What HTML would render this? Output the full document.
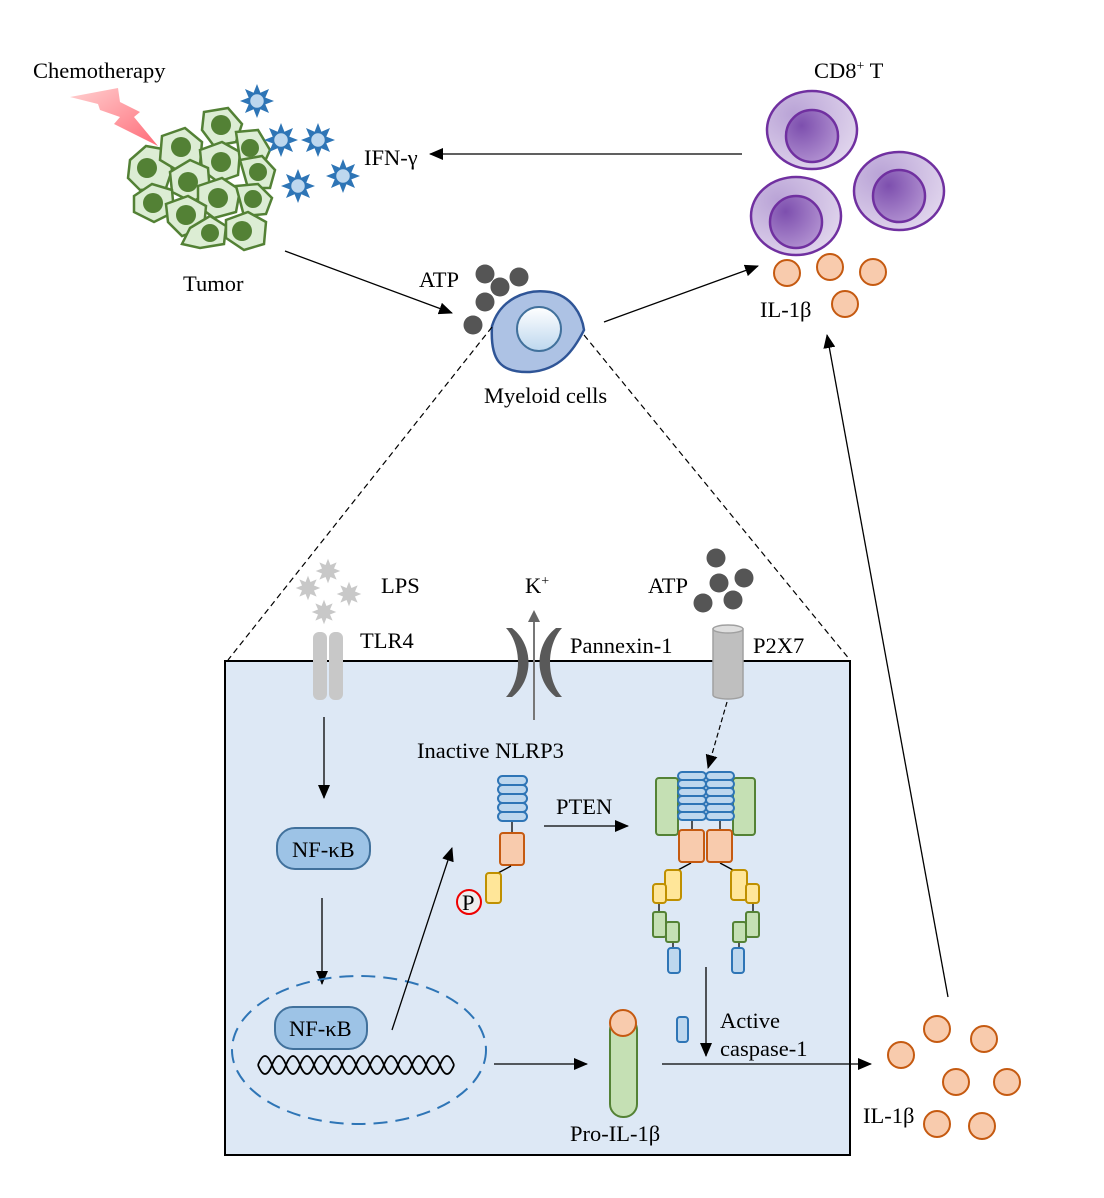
<!DOCTYPE html>
<html><head><meta charset="utf-8"><style>
html,body{margin:0;padding:0;background:#fff}
svg{display:block}
text{font-family:"Liberation Serif",serif;font-size:22.5px;fill:#000}
</style></head><body>
<svg width="1104" height="1198" viewBox="0 0 1104 1198" xmlns="http://www.w3.org/2000/svg">
<defs>
<marker id="ah" markerWidth="14" markerHeight="12" refX="13" refY="6" orient="auto" markerUnits="userSpaceOnUse"><path d="M0,0 L14,6 L0,12 z" fill="#000"/></marker>
<marker id="ahg" markerWidth="12" markerHeight="12" refX="10" refY="6" orient="auto" markerUnits="userSpaceOnUse"><path d="M0,0 L12,6 L0,12 z" fill="#666"/></marker>
<path id="star" d="M0,-17 3.4,-8.3 12,-12 8.3,-3.4 17,0 8.3,3.4 12,12 3.4,8.3 0,17 -3.4,8.3 -12,12 -8.3,3.4 -17,0 -8.3,-3.4 -12,-12 -3.4,-8.3z"/>
<radialGradient id="tc" cx="0.3" cy="0.3" r="0.9"><stop offset="0" stop-color="#b9a3d6"/><stop offset="1" stop-color="#e6dcf0"/></radialGradient>
<radialGradient id="tn" cx="0.3" cy="0.3" r="0.9"><stop offset="0" stop-color="#7d4fae"/><stop offset="1" stop-color="#b99bd6"/></radialGradient>
<linearGradient id="mn" x1="0" y1="0" x2="0" y2="1"><stop offset="0" stop-color="#fff"/><stop offset="1" stop-color="#bdd7ee"/></linearGradient>
<linearGradient id="lt" x1="0" y1="0" x2="1" y2="1"><stop offset="0" stop-color="#ffd0d0"/><stop offset="1" stop-color="#ff6b78"/></linearGradient>
</defs>

<text x="33" y="78">Chemotherapy</text>
<polygon points="70,97 118,88 120,102 140,112 134,117 158,146 114,124 120,117 100,110 98,104" fill="url(#lt)"/>

<g fill="#dcedd4" stroke="#538135" stroke-width="2.5">
<path d="M130,160 L146,146 L168,150 L172,170 L166,188 L140,190 L128,178z"/>
<path d="M162,136 L185,128 L202,142 L200,165 L180,172 L160,160z"/>
<path d="M204,112 L228,108 L242,124 L236,142 L214,146 L202,130z"/>
<path d="M200,150 L222,142 L240,152 L238,175 L218,182 L202,170z"/>
<path d="M170,172 L190,160 L208,168 L210,192 L192,202 L172,192z"/>
<path d="M236,132 L258,130 L270,150 L262,168 L240,160z"/>
<path d="M240,160 L262,156 L275,170 L270,188 L248,188z"/>
<path d="M198,186 L222,178 L240,190 L236,212 L214,218 L198,206z"/>
<path d="M134,196 L152,184 L172,190 L174,212 L154,222 L134,212z"/>
<path d="M166,204 L188,196 L206,206 L204,228 L182,236 L168,222z"/>
<path d="M236,186 L258,184 L272,198 L266,214 L244,216z"/>
<path d="M190,228 L210,216 L226,226 L224,244 L200,248 L182,244z"/>
<path d="M226,220 L248,212 L266,222 L264,244 L244,250 L226,238z"/>
</g>
<g fill="#538135">
<circle cx="147" cy="168" r="10"/><circle cx="181" cy="147" r="10"/><circle cx="221" cy="125" r="10"/>
<circle cx="221" cy="162" r="10"/><circle cx="188" cy="182" r="10"/><circle cx="250" cy="148" r="9"/>
<circle cx="258" cy="172" r="9"/><circle cx="218" cy="198" r="10"/><circle cx="153" cy="203" r="10"/>
<circle cx="186" cy="215" r="10"/><circle cx="210" cy="233" r="9"/><circle cx="242" cy="231" r="10"/><circle cx="253" cy="199" r="9"/>
</g>
<text x="183" y="291">Tumor</text>

<g fill="#2e75b6">
<use href="#star" x="257" y="101"/><use href="#star" x="281" y="140"/><use href="#star" x="318" y="140"/>
<use href="#star" x="298" y="186"/><use href="#star" x="343" y="176"/>
</g>
<g fill="#bdd7ee" stroke="#2e75b6" stroke-width="1.5">
<circle cx="257" cy="101" r="7.5"/><circle cx="281" cy="140" r="7.5"/><circle cx="318" cy="140" r="7.5"/>
<circle cx="298" cy="186" r="7.5"/><circle cx="343" cy="176" r="7.5"/>
</g>
<text x="364" y="165">IFN-γ</text>
<line x1="742" y1="154" x2="430" y2="154" stroke="#000" stroke-width="1.3" marker-end="url(#ah)"/>

<text x="814" y="78">CD8<tspan font-size="14" dy="-8">+</tspan><tspan dy="8"> T</tspan></text>
<g stroke="#7030a0" stroke-width="2.5">
<ellipse cx="812" cy="130" rx="45" ry="39" fill="url(#tc)"/><circle cx="812" cy="136" r="26" fill="url(#tn)"/>
<ellipse cx="796" cy="216" rx="45" ry="39" fill="url(#tc)"/><circle cx="796" cy="222" r="26" fill="url(#tn)"/>
<ellipse cx="899" cy="191" rx="45" ry="39" fill="url(#tc)"/><circle cx="899" cy="196" r="26" fill="url(#tn)"/>
</g>
<g fill="#f8cbad" stroke="#c55a11" stroke-width="2">
<circle cx="787" cy="273" r="13"/><circle cx="830" cy="267" r="13"/><circle cx="873" cy="272" r="13"/><circle cx="845" cy="304" r="13"/>
</g>
<text x="760" y="317">IL-1β</text>

<text x="419" y="287">ATP</text>
<g fill="#555">
<circle cx="485" cy="274" r="9.5"/><circle cx="500" cy="287" r="9.5"/><circle cx="519" cy="277" r="9.5"/>
<circle cx="485" cy="302" r="9.5"/><circle cx="473" cy="325" r="9.5"/>
</g>
<path d="M492,326 C500,300 525,288 550,292 C572,296 582,315 584,330 C574,350 560,370 530,372 C500,373 490,360 492,326z" fill="#adc2e4" stroke="#2f5597" stroke-width="2.5"/>
<circle cx="539" cy="329" r="22" fill="url(#mn)" stroke="#41719c" stroke-width="2"/>
<text x="484" y="403">Myeloid cells</text>
<line x1="285" y1="251" x2="452" y2="313" stroke="#000" stroke-width="1.3" marker-end="url(#ah)"/>
<line x1="604" y1="322" x2="758" y2="266" stroke="#000" stroke-width="1.3" marker-end="url(#ah)"/>
<line x1="948" y1="997" x2="827" y2="335" stroke="#000" stroke-width="1.3" marker-end="url(#ah)"/>
<line x1="492" y1="327" x2="228" y2="660" stroke="#000" stroke-width="1.2" stroke-dasharray="6,4"/>
<line x1="584" y1="335" x2="850" y2="660" stroke="#000" stroke-width="1.2" stroke-dasharray="6,4"/>

<rect x="225" y="661" width="625" height="494" fill="#dde8f5" stroke="#000" stroke-width="2"/>

<g fill="#c8c8c8">
<use href="#star" transform="translate(328,571) scale(0.72)"/><use href="#star" transform="translate(308,588) scale(0.72)"/>
<use href="#star" transform="translate(349,594) scale(0.72)"/><use href="#star" transform="translate(324,612) scale(0.72)"/>
</g>
<text x="381" y="593">LPS</text>
<rect x="313" y="632" width="14" height="68" rx="6" fill="#c8c8c8"/>
<rect x="329" y="632" width="14" height="68" rx="6" fill="#c8c8c8"/>
<text x="360" y="648">TLR4</text>

<text x="525" y="593">K<tspan font-size="14" dy="-8">+</tspan></text>
<path d="M506,628 C522,645 522,680 506,697 L512,697 C534,680 534,645 512,628z" fill="#595959"/>
<path d="M562,628 C546,645 546,680 562,697 L556,697 C534,680 534,645 556,628z" fill="#595959"/>
<line x1="534" y1="720" x2="534" y2="612" stroke="#777" stroke-width="2" marker-end="url(#ahg)"/>
<text x="570" y="653">Pannexin-1</text>

<text x="648" y="593">ATP</text>
<g fill="#555">
<circle cx="716" cy="558" r="9.5"/><circle cx="719" cy="583" r="9.5"/><circle cx="744" cy="578" r="9.5"/>
<circle cx="703" cy="603" r="9.5"/><circle cx="733" cy="600" r="9.5"/>
</g>
<path d="M713,629 L713,695 A15,4 0 0 0 743,695 L743,629z" fill="#bfbfbf" stroke="#a0a0a0" stroke-width="1.5"/>
<ellipse cx="728" cy="629" rx="15" ry="4" fill="#dedede" stroke="#a0a0a0" stroke-width="1.5"/>
<text x="753" y="653">P2X7</text>
<line x1="727" y1="702" x2="708" y2="768" stroke="#000" stroke-width="1.2" stroke-dasharray="5,3" marker-end="url(#ah)"/>

<line x1="324" y1="717" x2="324" y2="798" stroke="#000" stroke-width="1.3" marker-end="url(#ah)"/>
<rect x="277" y="828" width="93" height="41" rx="18" fill="#9dc3e6" stroke="#41719c" stroke-width="2"/>
<text x="292" y="857">NF-κB</text>
<line x1="322" y1="898" x2="322" y2="984" stroke="#000" stroke-width="1.3" marker-end="url(#ah)"/>
<ellipse cx="359" cy="1050" rx="127" ry="74" fill="none" stroke="#2e75b6" stroke-width="2" stroke-dasharray="14,8"/>
<rect x="275" y="1007" width="92" height="42" rx="18" fill="#9dc3e6" stroke="#41719c" stroke-width="2"/>
<text x="289" y="1036">NF-κB</text>
<g fill="none" stroke="#000" stroke-width="1.8">
<path d="M258,1065 Q265,1047 272,1065 T286,1065 T300,1065 T314,1065 T328,1065 T342,1065 T356,1065 T370,1065 T384,1065 T398,1065 T412,1065 T426,1065 T440,1065 T454,1065"/>
<path d="M258,1065 Q265,1083 272,1065 T286,1065 T300,1065 T314,1065 T328,1065 T342,1065 T356,1065 T370,1065 T384,1065 T398,1065 T412,1065 T426,1065 T440,1065 T454,1065"/>
</g>
<line x1="392" y1="1030" x2="452" y2="848" stroke="#000" stroke-width="1.3" marker-end="url(#ah)"/>
<line x1="494" y1="1064" x2="587" y2="1064" stroke="#000" stroke-width="1.3" marker-end="url(#ah)"/>

<text x="417" y="758">Inactive NLRP3</text>
<g fill="#bdd7ee" stroke="#2e75b6" stroke-width="2">
<rect x="498" y="776" width="29" height="9" rx="4.5"/><rect x="498" y="785" width="29" height="9" rx="4.5"/>
<rect x="498" y="794" width="29" height="9" rx="4.5"/><rect x="498" y="803" width="29" height="9" rx="4.5"/>
<rect x="498" y="812" width="29" height="9" rx="4.5"/>
</g>
<line x1="512" y1="822" x2="512" y2="833" stroke="#000" stroke-width="1.3"/>
<rect x="500" y="833" width="24" height="32" rx="3" fill="#f8cbad" stroke="#c55a11" stroke-width="2"/>
<line x1="511" y1="866" x2="498" y2="873" stroke="#000" stroke-width="1.3"/>
<rect x="486" y="873" width="15" height="30" rx="3" fill="#ffe699" stroke="#bf9000" stroke-width="2"/>
<circle cx="469" cy="902" r="12" fill="#eee" stroke="#e00" stroke-width="2"/>
<text x="462" y="910" font-size="19">P</text>
<text x="556" y="814">PTEN</text>
<line x1="544" y1="826" x2="628" y2="826" stroke="#000" stroke-width="1.3" marker-end="url(#ah)"/>

<g fill="#c5e0b4" stroke="#548235" stroke-width="2">
<rect x="656" y="778" width="22" height="57" rx="3"/><rect x="733" y="778" width="22" height="57" rx="3"/>
</g>
<g fill="#bdd7ee" stroke="#2e75b6" stroke-width="2">
<rect x="678" y="772" width="28" height="8" rx="4"/><rect x="678" y="780" width="28" height="8" rx="4"/><rect x="678" y="788" width="28" height="8" rx="4"/>
<rect x="678" y="796" width="28" height="8" rx="4"/><rect x="678" y="804" width="28" height="8" rx="4"/><rect x="678" y="812" width="28" height="8" rx="4"/>
<rect x="706" y="772" width="28" height="8" rx="4"/><rect x="706" y="780" width="28" height="8" rx="4"/><rect x="706" y="788" width="28" height="8" rx="4"/>
<rect x="706" y="796" width="28" height="8" rx="4"/><rect x="706" y="804" width="28" height="8" rx="4"/><rect x="706" y="812" width="28" height="8" rx="4"/>
</g>
<g stroke="#000" stroke-width="1.3">
<line x1="692" y1="821" x2="692" y2="830"/><line x1="720" y1="821" x2="720" y2="830"/>
<line x1="691" y1="863" x2="678" y2="870"/><line x1="720" y1="863" x2="733" y2="870"/>
<line x1="659" y1="903" x2="659" y2="912"/><line x1="753" y1="903" x2="753" y2="912"/>
<line x1="673" y1="942" x2="673" y2="948"/><line x1="739" y1="942" x2="739" y2="948"/>
</g>
<g fill="#f8cbad" stroke="#c55a11" stroke-width="2">
<rect x="679" y="830" width="25" height="32" rx="3"/><rect x="707" y="830" width="25" height="32" rx="3"/>
</g>
<g fill="#ffe699" stroke="#bf9000" stroke-width="2">
<rect x="665" y="870" width="16" height="30" rx="3"/><rect x="653" y="884" width="13" height="19" rx="3"/>
<rect x="731" y="870" width="16" height="30" rx="3"/><rect x="746" y="884" width="13" height="19" rx="3"/>
</g>
<g fill="#c5e0b4" stroke="#548235" stroke-width="2">
<rect x="653" y="912" width="13" height="25" rx="2"/><rect x="666" y="922" width="13" height="20" rx="2"/>
<rect x="746" y="912" width="13" height="25" rx="2"/><rect x="733" y="922" width="13" height="20" rx="2"/>
</g>
<g fill="#bdd7ee" stroke="#2e75b6" stroke-width="2">
<rect x="668" y="948" width="12" height="25" rx="3"/><rect x="732" y="948" width="12" height="25" rx="3"/>
<rect x="677" y="1017" width="11" height="25" rx="3"/>
</g>
<line x1="706" y1="967" x2="706" y2="1056" stroke="#000" stroke-width="1.3" marker-end="url(#ah)"/>
<text x="720" y="1028">Active</text>
<text x="720" y="1056">caspase-1</text>

<rect x="610" y="1017" width="27" height="100" rx="13" fill="#c5e0b4" stroke="#548235" stroke-width="2"/>
<circle cx="623" cy="1023" r="13" fill="#f8cbad" stroke="#c55a11" stroke-width="2"/>
<text x="570" y="1141">Pro-IL-1β</text>
<line x1="662" y1="1064" x2="871" y2="1064" stroke="#000" stroke-width="1.3" marker-end="url(#ah)"/>

<g fill="#f8cbad" stroke="#c55a11" stroke-width="2">
<circle cx="901" cy="1055" r="13"/><circle cx="937" cy="1029" r="13"/><circle cx="984" cy="1039" r="13"/>
<circle cx="956" cy="1082" r="13"/><circle cx="1007" cy="1082" r="13"/><circle cx="937" cy="1124" r="13"/><circle cx="982" cy="1126" r="13"/>
</g>
<text x="863" y="1123">IL-1β</text>
</svg>
</body></html>
